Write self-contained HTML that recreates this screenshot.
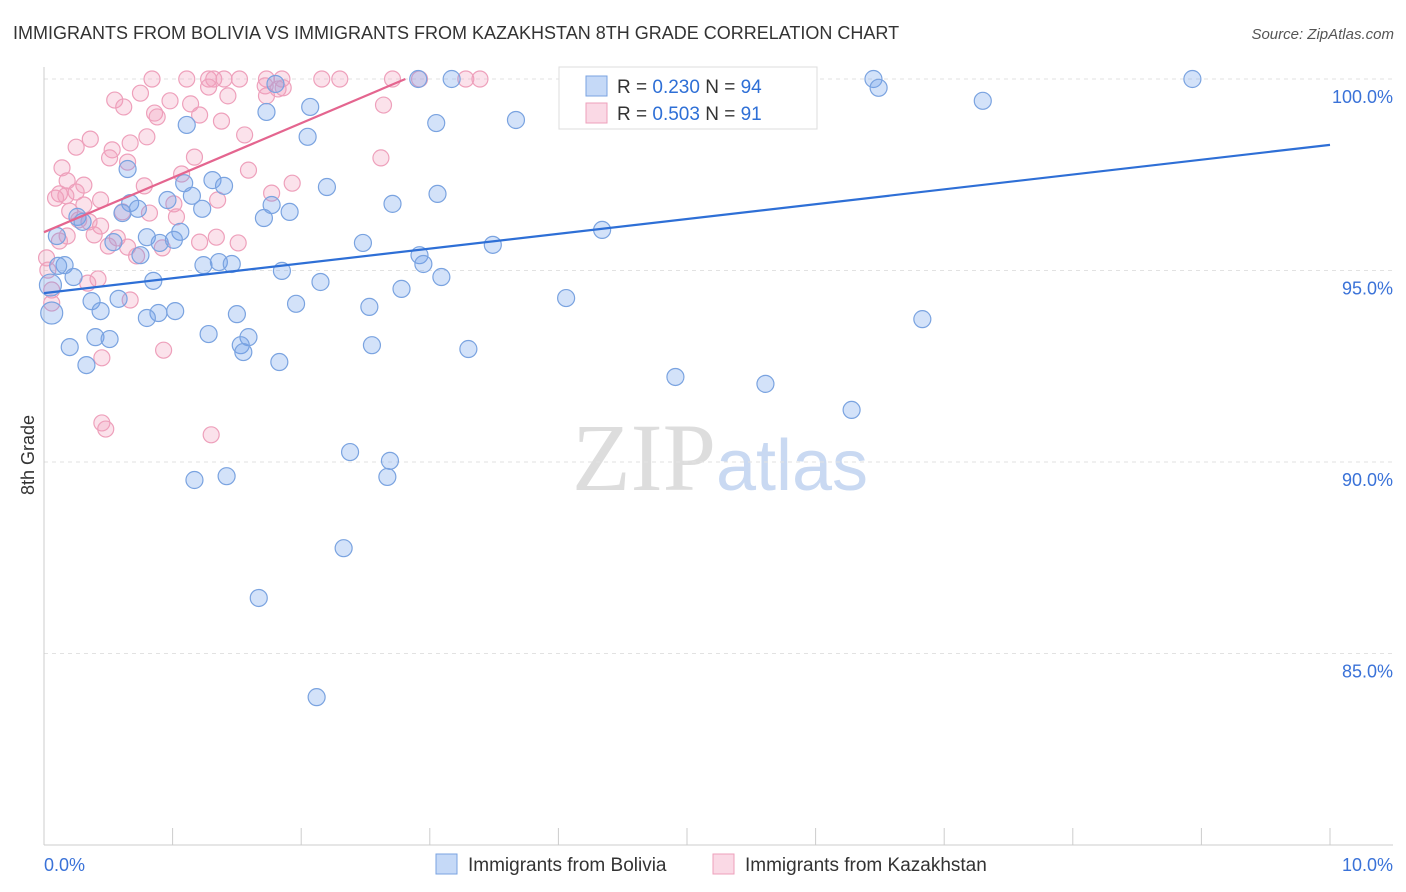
<!DOCTYPE html>
<html><head><meta charset="utf-8"><style>
body{margin:0;background:#fff;font-family:"Liberation Sans",sans-serif;}
svg{display:block}
</style></head><body>
<svg id="chart" width="1406" height="892" viewBox="0 0 1406 892" xmlns="http://www.w3.org/2000/svg">
<text x="13" y="39" font-size="18" fill="#333" font-family="Liberation Sans, sans-serif">IMMIGRANTS FROM BOLIVIA VS IMMIGRANTS FROM KAZAKHSTAN 8TH GRADE CORRELATION CHART</text>
<text x="1394" y="39" font-size="15" fill="#555" font-style="italic" text-anchor="end">Source: ZipAtlas.com</text>
<text x="720" y="490" font-size="96" text-anchor="middle" fill="#ddd" font-family="Liberation Serif, serif">ZIP<tspan fill="#c9d9f2" font-family="Liberation Sans, sans-serif" font-size="72">atlas</tspan></text>
<text transform="translate(34,455) rotate(-90)" font-size="18" fill="#333" text-anchor="middle">8th Grade</text>
<g id="grid"></g><g id="axes"></g><g id="pts"></g><g id="trends"></g>
<g>
<rect x="559" y="67" width="258" height="62" fill="#fff" stroke="#ddd"/>
<rect x="586" y="76" width="21" height="20" fill="rgba(110,160,235,0.4)" stroke="#7aa3e0"/>
<rect x="586" y="103" width="21" height="20" fill="rgba(242,160,190,0.4)" stroke="#eea0bb"/>
<text x="617" y="93" font-size="19" fill="#333">R = <tspan fill="#2e6fd6">0.230</tspan>   N = <tspan fill="#2e6fd6">94</tspan></text>
<text x="617" y="120" font-size="19" fill="#333">R = <tspan fill="#2e6fd6">0.503</tspan>   N =  <tspan fill="#2e6fd6">91</tspan></text>
</g>
<g>
<rect x="436" y="854" width="21" height="20" fill="rgba(110,160,235,0.4)" stroke="#7aa3e0"/>
<text x="468" y="871" font-size="19" fill="#333">Immigrants from Bolivia</text>
<rect x="713" y="854" width="21" height="20" fill="rgba(242,160,190,0.4)" stroke="#eea0bb"/>
<text x="745" y="871" font-size="19" fill="#333">Immigrants from Kazakhstan</text>
</g>
</svg>
<script>
const yTicks=[100,95,90,85];
const yTickLabels=["100.0%","95.0%","90.0%","85.0%"];
const xTickLabels=["0.0%","10.0%"];
const blueX=[4.11,5.01,5.57,6.45,8.93,6.49,7.30,2.91,3.17,1.80,2.07,1.73,1.11,3.05,3.67,2.05,0.65,1.09,1.31,1.40,2.20,2.71,3.06,1.15,0.96,1.23,0.67,0.73,0.61,1.71,1.91,1.77,0.26,0.30,4.34,1.06,0.80,0.90,1.01,0.10,0.54,0.75,2.48,3.49,2.92,2.95,0.16,0.11,1.24,1.36,1.46,1.85,0.23,0.85,3.09,2.15,0.05,2.78,0.58,0.37,1.96,4.06,2.53,0.44,0.89,0.80,1.02,1.50,0.06,6.83,1.28,0.40,0.51,1.59,0.20,1.53,1.55,2.55,3.30,0.33,1.83,4.91,5.61,6.28,2.38,2.69,2.67,1.17,1.42,2.33,1.67,2.12];
const blueY=[100,100,100,100,100,99.77,99.43,100,100,99.87,99.27,99.14,98.80,98.85,98.93,98.49,97.65,97.28,97.36,97.21,97.18,96.74,97.00,96.95,96.84,96.61,96.76,96.61,96.50,96.37,96.53,96.71,96.40,96.27,96.06,96.01,95.87,95.72,95.80,95.90,95.74,95.40,95.72,95.67,95.40,95.17,95.14,95.12,95.14,95.22,95.17,94.99,94.83,94.73,94.83,94.70,94.62,94.52,94.26,94.20,94.13,94.28,94.05,93.94,93.89,93.76,93.94,93.86,93.89,93.73,93.34,93.26,93.21,93.26,93.00,93.05,92.87,93.05,92.95,92.53,92.61,92.22,92.04,91.36,90.26,90.03,89.61,89.53,89.63,87.75,86.45,83.86];
const pinkX=[0.84,1.11,1.28,1.32,1.40,1.52,1.73,1.85,2.16,2.30,2.71,2.92,3.28,3.39,1.28,1.72,1.82,1.86,0.75,0.55,0.62,0.98,1.14,1.43,1.73,2.64,0.86,0.88,1.21,1.38,1.56,0.80,0.67,0.25,0.36,0.53,0.51,0.65,1.17,2.62,0.14,1.59,1.07,0.18,0.31,0.78,1.93,1.77,0.12,0.25,0.17,0.09,1.35,1.01,0.44,0.31,0.20,0.61,0.82,1.03,0.27,0.35,0.44,0.39,0.18,0.12,0.57,1.34,1.51,1.21,0.50,0.65,0.92,0.72,0.02,0.03,0.42,0.34,0.67,0.06,0.93,0.45,0.45,0.48,1.30,0.06];
const pinkY=[100,100,100,100,100,100,100,100,100,100,100,100,100,100,99.79,99.82,99.74,99.77,99.63,99.45,99.27,99.43,99.35,99.56,99.56,99.32,99.11,99.01,99.06,98.90,98.54,98.49,98.33,98.22,98.43,98.15,97.94,97.83,97.96,97.94,97.68,97.62,97.52,97.34,97.23,97.21,97.28,97.02,97.00,97.05,96.95,96.89,96.84,96.74,96.84,96.71,96.55,96.53,96.50,96.40,96.32,96.27,96.16,95.93,95.90,95.77,95.85,95.87,95.72,95.74,95.64,95.61,95.59,95.38,95.33,95.01,94.78,94.67,94.23,94.15,92.92,92.72,91.02,90.86,90.71,94.49];
const blueTrendX=[0,10], blueTrendY=[94.41,98.28];
const pinkTrendX=[0,2.81], pinkTrendY=[96.0,100];
const NS="http://www.w3.org/2000/svg";
const X=v=>44+v*128.6, Y=v=>79+(100-v)*38.3;
function mk(tag,parent,attrs){const e=document.createElementNS(NS,tag);for(const k in attrs)e.setAttribute(k,attrs[k]);document.getElementById(parent).appendChild(e);return e;}
yTicks.forEach((t,i)=>{
  const l=mk('line','grid',{x1:44,x2:1393,y1:Y(t),y2:Y(t),stroke:'#e2e2e2','stroke-dasharray':'4,4'});
  
  
  const tx=mk('text','grid',{x:1393,y:Y(t)+24,'font-size':18,fill:'#3a72d8','text-anchor':'end'});
  tx.textContent=yTickLabels[i];
  
  
});
let a=mk('line','axes',{x1:44,x2:44,y1:67,y2:845,stroke:'#ccc'});


a=mk('line','axes',{x1:44,x2:1393,y1:845,y2:845,stroke:'#ccc'});


for(let i=0;i<=10;i++){const t=mk('line','axes',{x1:X(i),x2:X(i),y1:828,y2:845,stroke:'#ccc'});
  
  }
[[0,'start',xTickLabels[0]],[10,'end',xTickLabels[1]]].forEach(([v,an,s])=>{
  const t=mk('text','axes',{x:v==0?44:1393,y:871,'font-size':18,fill:'#3a72d8','text-anchor':an});t.textContent=s;
  
  });
pinkX.forEach((v,i)=>{const c=mk('circle','pts',{cx:X(v),cy:Y(pinkY[i]),r:8,fill:'rgba(242,160,190,0.3)',stroke:'#eea0bb','stroke-width':1.2});
  
  });
blueX.forEach((v,i)=>{const c=mk('circle','pts',{cx:X(v),cy:Y(blueY[i]),r:(blueX[i]<0.1?11:8.5),fill:'rgba(110,160,235,0.3)',stroke:'#7aa3e0','stroke-width':1.2});
  
  });
let tl=mk('line','trends',{x1:X(blueTrendX[0]),y1:Y(blueTrendY[0]),x2:X(blueTrendX[1]),y2:Y(blueTrendY[1]),stroke:'#2e6fd6','stroke-width':2.2});


tl=mk('line','trends',{x1:X(pinkTrendX[0]),y1:Y(pinkTrendY[0]),x2:X(pinkTrendX[1]),y2:Y(pinkTrendY[1]),stroke:'#e4658f','stroke-width':2.2});


</script>
</body></html>
